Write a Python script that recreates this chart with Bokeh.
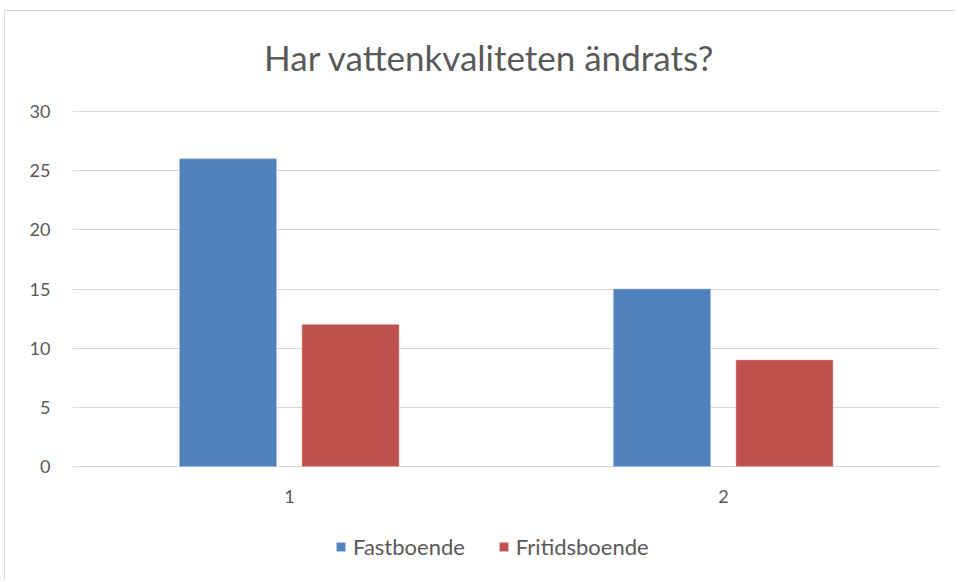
from bokeh.plotting import figure
from bokeh.models import (ColumnDataSource, FactorRange, Range1d, Legend, LegendItem,
                          FixedTicker, Label)
from bokeh.core.properties import value
from bokeh.transform import dodge
from bokeh.embed import file_html
from bokeh.resources import INLINE

categories = ["1", "2"]
fastboende = [26, 15]
fritidsboende = [12, 9]
series_names = ["Fastboende", "Fritidsboende"]
colors = ["#4F81BD", "#C0504D"]
y_ticks = [0, 5, 10, 15, 20, 25, 30]
title_text = "Har vattenkvaliteten ändrats?"

FONT = "Lato"
TEXT = "#595959"
GRID = "#D9D9D9"

# the frame spans the whole canvas height: title, category labels and legend live inside it
PX_PER_UNIT = 355 / 30.0
Y_MAX = 30 + 100 / PX_PER_UNIT
Y_MIN = 30 - 465 / PX_PER_UNIT
LABEL_Y = -30 / PX_PER_UNIT
TITLE_Y = 30 + 55 / PX_PER_UNIT

src = ColumnDataSource(dict(cat=categories, fast=fastboende, frit=fritidsboende,
                            ly=[LABEL_Y] * len(categories)))

p = figure(x_range=FactorRange(*categories), y_range=Range1d(Y_MIN, Y_MAX),
           width=952, height=570, output_backend="svg", toolbar_location=None,
           min_border_left=67, min_border_right=17, min_border_top=0, min_border_bottom=5)

r1 = p.vbar(x=dodge("cat", -0.1417, range=p.x_range), top="fast", width=0.2235, source=src,
            fill_color=colors[0], line_color="#A9C1E0", line_width=0.5)
r2 = p.vbar(x=dodge("cat", 0.1406, range=p.x_range), top="frit", width=0.2235, source=src,
            fill_color=colors[1], line_color="#E0A9A8", line_width=0.5)

p.text(x="cat", y="ly", text="cat", source=src, text_align="center", text_baseline="middle",
       text_font=value(FONT), text_font_size="18px", text_color=TEXT)

p.add_layout(Label(x=417, y=TITLE_Y, x_units="screen", y_units="data", text=title_text,
                   text_align="center", text_baseline="middle", text_font=FONT,
                   text_font_size="35px", text_color=TEXT))

p.outline_line_color = None
p.xgrid.grid_line_color = None
p.ygrid.grid_line_color = GRID
p.ygrid.grid_line_width = 1
p.yaxis.ticker = FixedTicker(ticks=y_ticks)
p.xaxis.visible = False

p.yaxis.major_tick_line_color = None
p.yaxis.minor_tick_line_color = None
p.yaxis.axis_line_color = None
p.yaxis.major_label_text_font = FONT
p.yaxis.major_label_text_font_size = "18px"
p.yaxis.major_label_text_color = TEXT
p.yaxis.major_label_standoff = 16

legend = Legend(items=[LegendItem(label=series_names[0], renderers=[r1]),
                       LegendItem(label=series_names[1], renderers=[r2])],
                orientation="horizontal", location=(263, 16), padding=0, margin=0,
                label_text_font=FONT, label_text_font_size="22px", label_text_color=TEXT,
                glyph_width=11, glyph_height=11, spacing=33, label_standoff=7,
                background_fill_alpha=0, border_line_color=None)
p.add_layout(legend, "center")

p.styles = {"margin-left": "4px", "margin-top": "10px",
            "border-top": "1px solid #D9D9D9", "border-left": "1px solid #D9D9D9"}

open("out.html", "w").write(file_html(p, INLINE))
